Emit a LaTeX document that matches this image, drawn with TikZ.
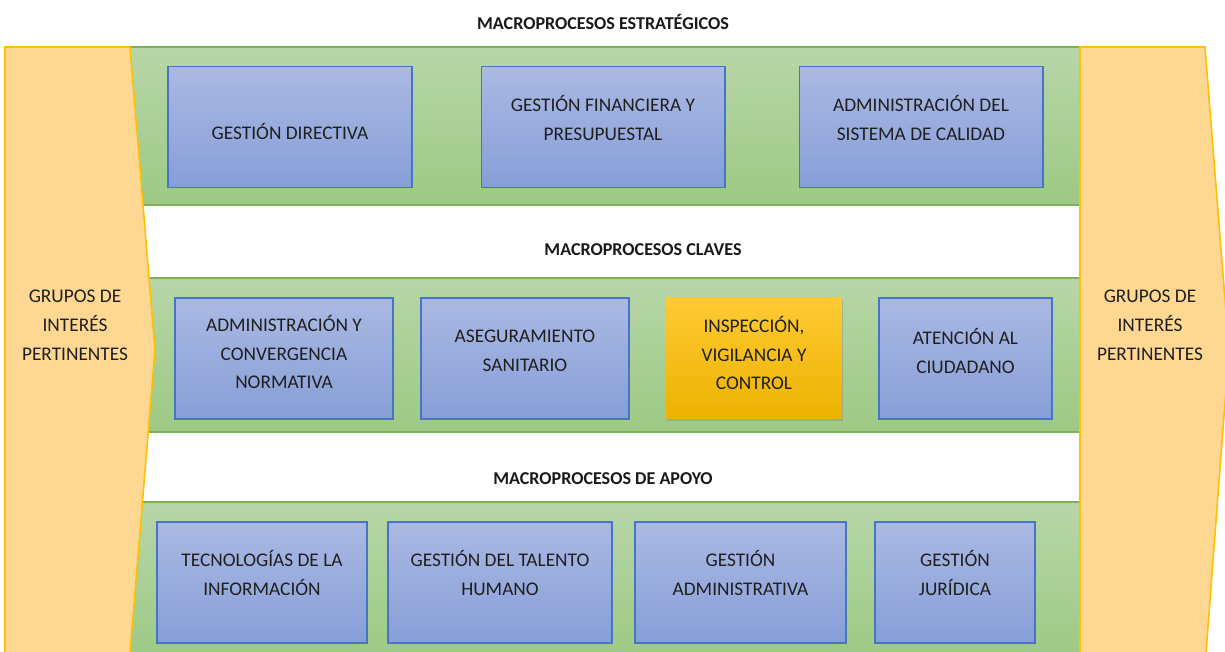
\documentclass[tikz,border=0pt]{standalone}
\usepackage{fontspec}
\setmainfont{Carlito}
\usetikzlibrary{shadows}
\definecolor{bandtop}{RGB}{183,214,168}
\definecolor{bandbot}{RGB}{157,201,132}
\definecolor{bandline}{RGB}{122,178,84}
\definecolor{proctop}{RGB}{171,185,227}
\definecolor{procbot}{RGB}{134,158,215}
\definecolor{procline}{RGB}{72,116,198}
\definecolor{keytop}{RGB}{255,202,52}
\definecolor{keybot}{RGB}{236,178,0}
\definecolor{grpfill}{RGB}{254,216,146}
\definecolor{grpline}{RGB}{255,192,0}
\tikzset{
    band/.style ={draw=bandline, line width=0.8pt, top color=bandtop, bottom color=bandbot, inner sep=0pt},
    proc/.style ={draw=procline, line width=0.6pt, top color=proctop, bottom color=procbot, inner sep=0pt, minimum height=2.42cm},
    keyproc/.style={top color=keytop, bottom color=keybot, inner sep=0pt, minimum height=2.42cm,
        drop shadow={shadow xshift=0.6pt, shadow yshift=-1.6pt, opacity=0.35}},
    group/.style={fill=grpfill, draw=grpline, line width=0.9pt, line join=miter},
    txt/.style ={align=center, font=\fontsize{11}{16.4}\selectfont, text=black!88, inner sep=0pt},
    head/.style={font=\fontsize{10.3}{12}\selectfont\bfseries, text=black!90, inner sep=0pt}
}
\begin{document}
\begin{tikzpicture}[x=0.02cm, y=-0.02cm]
    \useasboundingbox (0,0) rectangle (1225,652);

    %% green bands
    \node[band, minimum width=19cm, minimum height=3.16cm] (estrategicos) at (605,126) {};
    \node[band, minimum width=19cm, minimum height=3.08cm] (claves) at (605,355) {};
    \node[band, minimum width=19cm, minimum height=3.2cm] (apoyo) at (605,582) {};

    %% stakeholders, in and out
    \filldraw[group] (5,47) -- (130,47) -- (155,350) -- (130,653) -- (5,653) -- cycle;
    \filldraw[group] (1080,47) -- (1205,47) -- (1229,350) -- (1206,653) -- (1080,653) -- cycle;
    \node[txt] (grupos-in) at (75,325) {GRUPOS DE\\INTERÉS\\PERTINENTES};
    \node[txt] (grupos-out) at (1150,325) {GRUPOS DE\\INTERÉS\\PERTINENTES};

    %% headings
    \node[head] (h-estrategicos) at (603,22) {MACROPROCESOS ESTRATÉGICOS};
    \node[head] (h-claves) at (643,250) {MACROPROCESOS CLAVES};
    \node[head] (h-apoyo) at (603,479) {MACROPROCESOS DE APOYO};

    %% strategic
    \node[proc, minimum width=4.88cm] (directiva) at (290,127) {};
    \node[proc, minimum width=4.88cm] (financiera) at (603,127) {};
    \node[proc, minimum width=4.88cm] (calidad) at (921,127) {};
    \node[txt] (t-directiva) at (290,131) {GESTIÓN DIRECTIVA};
    \node[txt] (t-financiera) at (603,118) {GESTIÓN FINANCIERA Y\\PRESUPUESTAL};
    \node[txt] (t-calidad) at (921,118) {ADMINISTRACIÓN DEL\\SISTEMA DE CALIDAD};

    %% key processes
    \node[proc, minimum width=4.36cm] (normativa) at (284,358.5) {};
    \node[proc, minimum width=4.16cm] (aseguramiento) at (525,358.5) {};
    \node[keyproc, minimum width=3.52cm] (ivc) at (754,358) {};
    \node[proc, minimum width=3.46cm] (atencion) at (965.5,358.5) {};
    \node[txt] (t-normativa) at (284,352) {ADMINISTRACIÓN Y\\CONVERGENCIA\\NORMATIVA};
    \node[txt] (t-aseguramiento) at (525,351) {ASEGURAMIENTO\\SANITARIO};
    \node[txt] (t-ivc) at (754,353) {INSPECCIÓN,\\VIGILANCIA Y\\CONTROL};
    \node[txt] (t-atencion) at (965.5,351) {ATENCIÓN AL\\CIUDADANO};

    %% support
    \node[proc, minimum width=4.2cm] (tic) at (262,582.5) {};
    \node[proc, minimum width=4.48cm] (talento) at (500,582.5) {};
    \node[proc, minimum width=4.22cm] (administrativa) at (740.5,582.5) {};
    \node[proc, minimum width=3.2cm] (juridica) at (955,582.5) {};
    \node[txt] (t-tic) at (262,573) {TECNOLOGÍAS DE LA\\INFORMACIÓN};
    \node[txt] (t-talento) at (500,573) {GESTIÓN DEL TALENTO\\HUMANO};
    \node[txt] (t-administrativa) at (740.5,573) {GESTIÓN\\ADMINISTRATIVA};
    \node[txt] (t-juridica) at (955,573) {GESTIÓN\\JURÍDICA};
\end{tikzpicture}
\end{document}
